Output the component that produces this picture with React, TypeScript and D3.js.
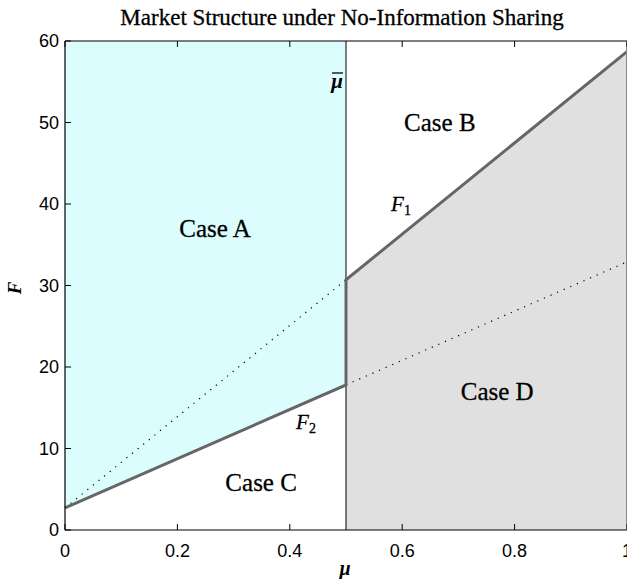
import React from "react";
import * as d3 from "d3";

const W = 627;
const H = 579;

// Data
const muBar = 0.5;
const interceptF = 2.7;
const slopeF1 = 56;
const slopeF2 = 30.2;
const xTicks = [0, 0.2, 0.4, 0.6, 0.8, 1];
const yTicks = [0, 10, 20, 30, 40, 50, 60];
const caseLabels = [
  { text: "Case A", x: 0.267, y: 35.9 },
  { text: "Case B", x: 0.667, y: 49 },
  { text: "Case C", x: 0.349, y: 4.8 },
  { text: "Case D", x: 0.769, y: 16 },
];

const F1 = (m: number) => interceptF + slopeF1 * m;
const F2 = (m: number) => interceptF + slopeF2 * m;

export default function App() {
  const left = 65, right = 627, top = 41, bottom = 530;
  const x = d3.scaleLinear().domain([0, 1]).range([left, right]);
  const y = d3.scaleLinear().domain([0, 60]).range([bottom, top]);
  const line = d3.line<[number, number]>().x(d => x(d[0])).y(d => y(d[1]));

  const cyanPoly: [number, number][] = [
    [0, 60], [muBar, 60], [muBar, F2(muBar)], [0, F2(0)],
  ];
  const grayPoly: [number, number][] = [
    [muBar, 0], [1, 0], [1, F1(1)], [muBar, F1(muBar)],
  ];
  const serif = "'Liberation Serif', 'DejaVu Serif', serif";
  const sans = "'Liberation Sans', Arial, sans-serif";

  return (
    <svg width={W} height={H} style={{ position: "absolute", left: 0, top: 0, background: "#fff" }}>
      <path d={line(cyanPoly) + "Z"} fill="#dcfdfd" stroke="none" />
      <path d={line(grayPoly) + "Z"} fill="#e0e0e0" stroke="none" />
      {/* dotted extensions */}
      <path d={line([[0, F1(0)], [muBar, F1(muBar)]])!} fill="none" stroke="#000" strokeWidth={1.2} strokeDasharray="1.2 6" />
      <path d={line([[muBar, F2(muBar)], [1, F2(1)]])!} fill="none" stroke="#000" strokeWidth={1.2} strokeDasharray="1.2 6" />
      {/* mu bar line */}
      <path d={line([[muBar, 0], [muBar, 60]])!} fill="none" stroke="#000" strokeWidth={1} />
      {/* solid boundaries */}
      <path d={line([[0, F2(0)], [muBar, F2(muBar)], [muBar, F1(muBar)], [1, F1(1)]])!} fill="none" stroke="#666" strokeWidth={3} />
      {/* axes box */}
      <line x1={left} x2={right} y1={bottom} y2={bottom} stroke="#000" strokeWidth={1.2} />
      <line x1={left} x2={right} y1={top} y2={top} stroke="#000" strokeWidth={1.2} />
      <line x1={left} x2={left} y1={top} y2={bottom} stroke="#000" strokeWidth={1.2} />
      <line x1={right - 0.5} x2={right - 0.5} y1={top} y2={bottom} stroke="#888" strokeWidth={1} />
      {xTicks.map(t => (
        <g key={"x" + t}>
          <line x1={x(t)} x2={x(t)} y1={bottom} y2={bottom - 6} stroke="#000" />
          <line x1={x(t)} x2={x(t)} y1={top} y2={top + 6} stroke="#000" />
          <text x={x(t)} y={bottom + 27} textAnchor="middle" fontFamily={sans} fontSize={18} fill="#000">{String(t)}</text>
        </g>
      ))}
      {yTicks.map(t => (
        <g key={"y" + t}>
          <line x1={left} x2={left + 6} y1={y(t)} y2={y(t)} stroke="#000" />
          <text x={left - 6} y={y(t) + 6} textAnchor="end" fontFamily={sans} fontSize={18} fill="#000">{String(t)}</text>
        </g>
      ))}
      <text x={342} y={25} textAnchor="middle" fontFamily={serif} fontSize={23} fill="#000" stroke="#000" strokeWidth={0.3}>Market Structure under No-Information Sharing</text>
      <text x={345} y={575} textAnchor="middle" fontFamily={serif} fontSize={20} fontStyle="italic" fontWeight="bold" fill="#000">μ</text>
      <text transform="translate(21,288) rotate(-90)" textAnchor="middle" fontFamily={serif} fontSize={19} fontStyle="italic" fontWeight="bold" fill="#000">F</text>
      {caseLabels.map(c => (
        <text key={c.text} x={x(c.x)} y={y(c.y)} textAnchor="middle" fontFamily={serif} fontSize={25} fill="#000" stroke="#000" strokeWidth={0.3}>{c.text}</text>
      ))}
      <text x={401} y={211} textAnchor="middle" fontFamily={serif} fontSize={21} fontStyle="italic" fill="#000" stroke="#000" strokeWidth={0.3}>F<tspan fontStyle="normal" fontSize={14} dy={4}>1</tspan></text>
      <text x={306} y={429} textAnchor="middle" fontFamily={serif} fontSize={21} fontStyle="italic" fill="#000" stroke="#000" strokeWidth={0.3}>F<tspan fontStyle="normal" fontSize={14} dy={4}>2</tspan></text>
      <text x={337} y={88} textAnchor="middle" fontFamily={serif} fontSize={21} fontStyle="italic" fontWeight="bold" fill="#000">μ</text>
      <line x1={332} x2={343} y1={73} y2={73} stroke="#000" strokeWidth={1.3} />
    </svg>
  );
}
